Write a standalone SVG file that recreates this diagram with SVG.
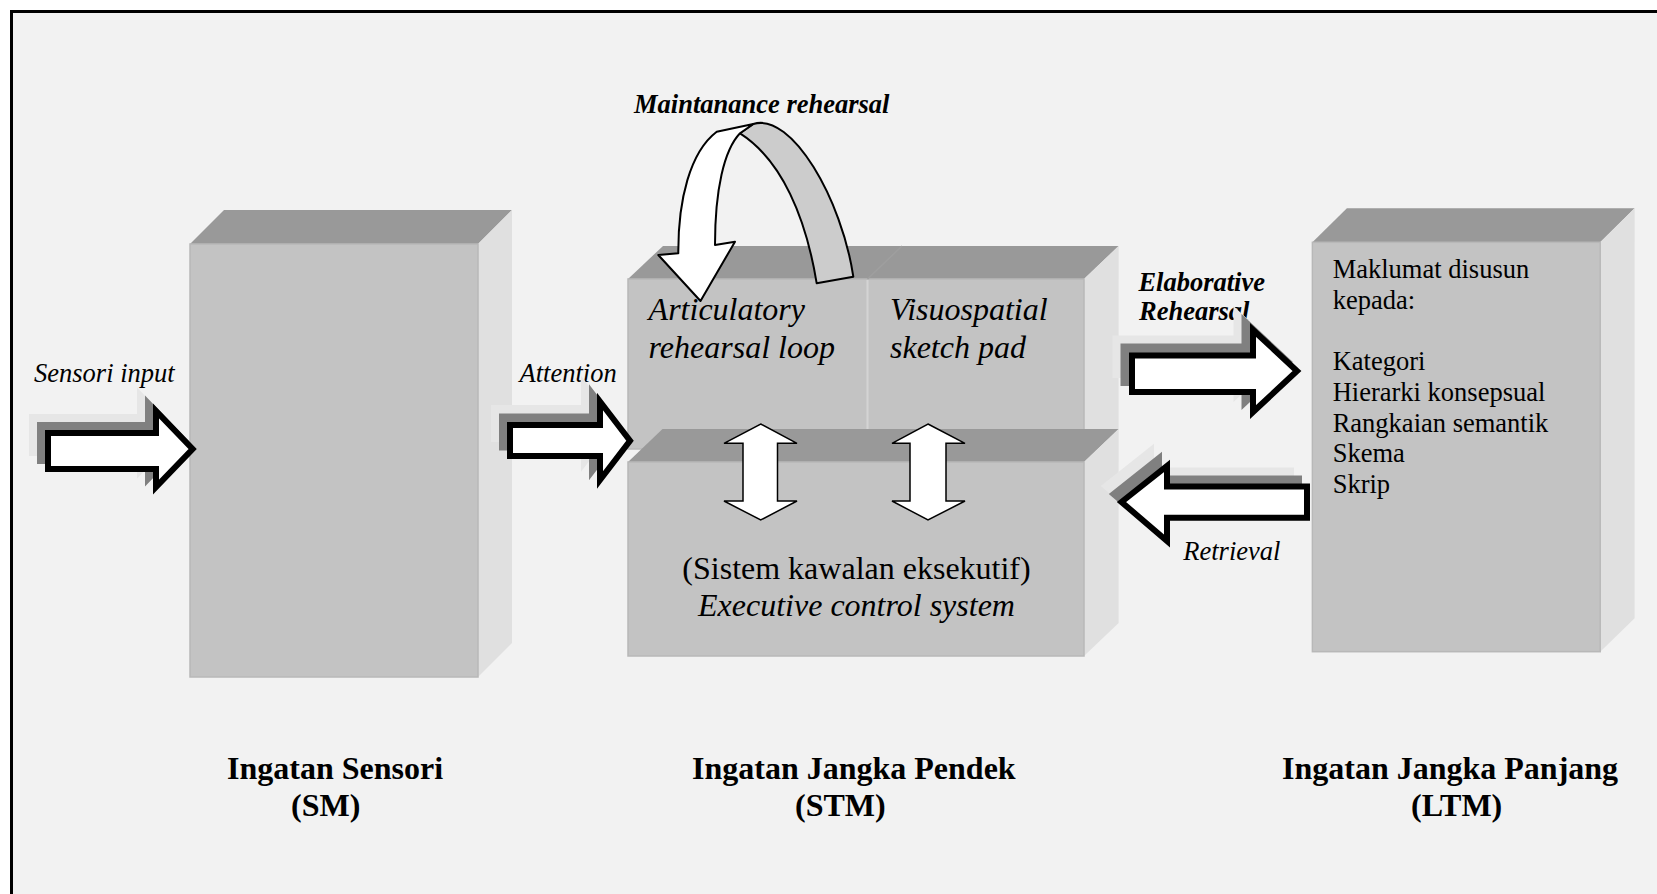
<svg xmlns="http://www.w3.org/2000/svg" xmlns:xlink="http://www.w3.org/1999/xlink" width="1657" height="894" viewBox="0 0 1657 894">
<style>
.front{fill:#c3c3c3;stroke:#b8b8b8;stroke-width:1.5}
.top{fill:#999999}
.side{fill:#e0e0e0}
.t{font-family:"Liberation Serif","Times New Roman",serif;fill:#000}
.i{font-style:italic}
.b{font-weight:bold}
.s26{font-size:26.5px}
.s32{font-size:32px}
.arrow{fill:#fff;stroke:#000;stroke-width:6;stroke-linejoin:miter;stroke-miterlimit:10}
.sh1{fill:#808080;stroke:#808080;stroke-width:6;stroke-linejoin:miter;stroke-miterlimit:10}
.sh2{fill:#e6e6e6;stroke:#e6e6e6;stroke-width:6;stroke-linejoin:miter;stroke-miterlimit:10}
.dbl{fill:#fff;stroke:#000;stroke-width:1.5;stroke-linejoin:miter}
.loopw{fill:#fff;stroke:#000;stroke-width:2;stroke-linejoin:round}
.loopg{fill:#cccccc;stroke:#000;stroke-width:2;stroke-linejoin:round}
</style>
<defs>
<path id="a1" d="M48,433 L156,433 L156,411 L192.6,449 L156,487 L156,469 L48,469 Z"/>
<path id="a2" d="M510,425 L600,425 L600,401.5 L630,440.7 L600,480 L600,456 L510,456 Z"/>
<path id="a3" d="M1132,355.5 L1253,355.5 L1253,330 L1297,371 L1253,412 L1253,392 L1132,392 Z"/>
<path id="a4" d="M1121.5,502 L1167,466 L1167,486.5 L1307,486.5 L1307,517.7 L1167,517.7 L1167,541 Z"/>
</defs>
<rect x="0" y="0" width="1657" height="894" fill="#ffffff"/>
<rect x="10" y="10" width="1647" height="884" fill="#f2f2f2"/>
<path d="M11.5,894 L11.5,11.5 L1657,11.5" fill="none" stroke="#000" stroke-width="3"/>

<g id="node-sm">
<polygon class="top" points="190,244 224,210 512,210 478,244"/>
<polygon class="side" points="478,244 512,210 512,643 478,677"/>
<rect class="front" x="190" y="244" width="288" height="433"/>
</g>

<g id="node-stm">
<g id="node-stm-upper">
<polygon class="top" points="628,279 663,246 1118.6,246 1084,279"/>
<polygon class="side" points="1084,279 1118.6,246 1118.6,429 1084,462"/>
<rect class="front" x="628" y="279" width="456" height="170"/>
<line x1="867.5" y1="280" x2="867.5" y2="430" stroke="#d4d4d4" stroke-width="2"/>
<line x1="867.5" y1="279" x2="902" y2="246" stroke="#9f9f9f" stroke-width="1.5"/>
</g>
<g id="node-stm-lower">
<polygon class="top" points="628,462 662.5,429 1118.6,429 1084,462"/>
<polygon class="side" points="1084,462 1118.6,429 1118.6,623 1084,656"/>
<rect class="front" x="628" y="462" width="456" height="194"/>
</g>
</g>

<g id="node-ltm">
<polygon class="top" points="1312.4,242.3 1346.9,208.3 1634.6,208.3 1600.2,242.3"/>
<polygon class="side" points="1600.2,242.3 1634.6,208.3 1634.6,618.3 1600.2,651.7"/>
<rect class="front" x="1312.4" y="242.3" width="287.8" height="409.4"/>
</g>

<g id="labels-top">
<text class="t i b s26" x="634" y="112.7">Maintanance rehearsal</text>
<text class="t i s26" x="34" y="381.5">Sensori input</text>
<text class="t i s26" x="519.5" y="382">Attention</text>
<text class="t i b s26" x="1138.4" y="291.3">Elaborative</text>
<text class="t i b s26" x="1139" y="320">Rehearsal</text>
<text class="t i s26" x="1183.3" y="560.3">Retrieval</text>
</g>

<g id="connectors">
<g id="arrow-sensori">
<use xlink:href="#a1" href="#a1" class="sh2" transform="translate(-16,-16)"/>
<use xlink:href="#a1" href="#a1" class="sh1" transform="translate(-8,-8)"/>
<use xlink:href="#a1" href="#a1" class="arrow"/>
</g>
<g id="arrow-attention">
<use xlink:href="#a2" href="#a2" class="sh2" transform="translate(-16,-17)"/>
<use xlink:href="#a2" href="#a2" class="sh1" transform="translate(-8,-8.5)"/>
<use xlink:href="#a2" href="#a2" class="arrow"/>
</g>
<g id="arrow-elaborative">
<use xlink:href="#a3" href="#a3" class="sh2" transform="translate(-16.5,-17)"/>
<use xlink:href="#a3" href="#a3" class="sh1" transform="translate(-8.5,-9)"/>
<use xlink:href="#a3" href="#a3" class="arrow"/>
</g>
<g id="arrow-retrieval">
<use xlink:href="#a4" href="#a4" class="sh2" transform="translate(-16,-16)"/>
<use xlink:href="#a4" href="#a4" class="sh1" transform="translate(-8,-8)"/>
<use xlink:href="#a4" href="#a4" class="arrow"/>
</g>
<g id="arrow-maintenance">
<path class="loopg" d="M753.3,124 C792,112 842,200 853.3,276.7 L816.7,283.3 C806,218 782,160 740,133.3 Z"/>
<path class="loopw" d="M716.7,131.7 L753.3,124 L740,133.3 C724,150 715,190 715,245 L735,241.7 L700.5,301 L658.3,255 L678.3,253.3 C678,200 690,152 716.7,131.7 Z"/>
</g>
<path id="dbl-1" class="dbl" d="M760.7,424 L797,443.3 L777.5,443.3 L777.5,501 L797,501 L760.7,520 L724,501 L743,501 L743,443.3 L724,443.3 Z"/>
<path id="dbl-2" class="dbl" d="M928,424 L965,443.3 L946,443.3 L946,501 L965,501 L928,520 L892,501 L910,501 L910,443.3 L892,443.3 Z"/>
</g>

<g id="labels-stm">
<text class="t i s32" x="648.6" y="320">Articulatory</text>
<text class="t i s32" x="648.6" y="357.5">rehearsal loop</text>
<text class="t i s32" x="890" y="320">Visuospatial</text>
<text class="t i s32" x="890" y="357.5">sketch pad</text>
<text class="t s32" x="856.5" y="578.5" text-anchor="middle">(Sistem kawalan eksekutif)</text>
<text class="t i s32" x="856.5" y="616" text-anchor="middle">Executive control system</text>
</g>

<g id="labels-ltm">
<text class="t s26" x="1332.7" y="277.5">Maklumat disusun</text>
<text class="t s26" x="1332.7" y="309">kepada:</text>
<text class="t s26" x="1332.7" y="369.5">Kategori</text>
<text class="t s26" x="1332.7" y="401">Hierarki konsepsual</text>
<text class="t s26" x="1332.7" y="432">Rangkaian semantik</text>
<text class="t s26" x="1332.7" y="462">Skema</text>
<text class="t s26" x="1332.7" y="493">Skrip</text>
</g>

<g id="labels-bottom">
<text class="t b s32" x="227" y="779">Ingatan Sensori</text>
<text class="t b s32" x="291" y="816">(SM)</text>
<text class="t b s32" x="692" y="779">Ingatan Jangka Pendek</text>
<text class="t b s32" x="795" y="816">(STM)</text>
<text class="t b s32" x="1282" y="779">Ingatan Jangka Panjang</text>
<text class="t b s32" x="1411" y="816">(LTM)</text>
</g>
</svg>
